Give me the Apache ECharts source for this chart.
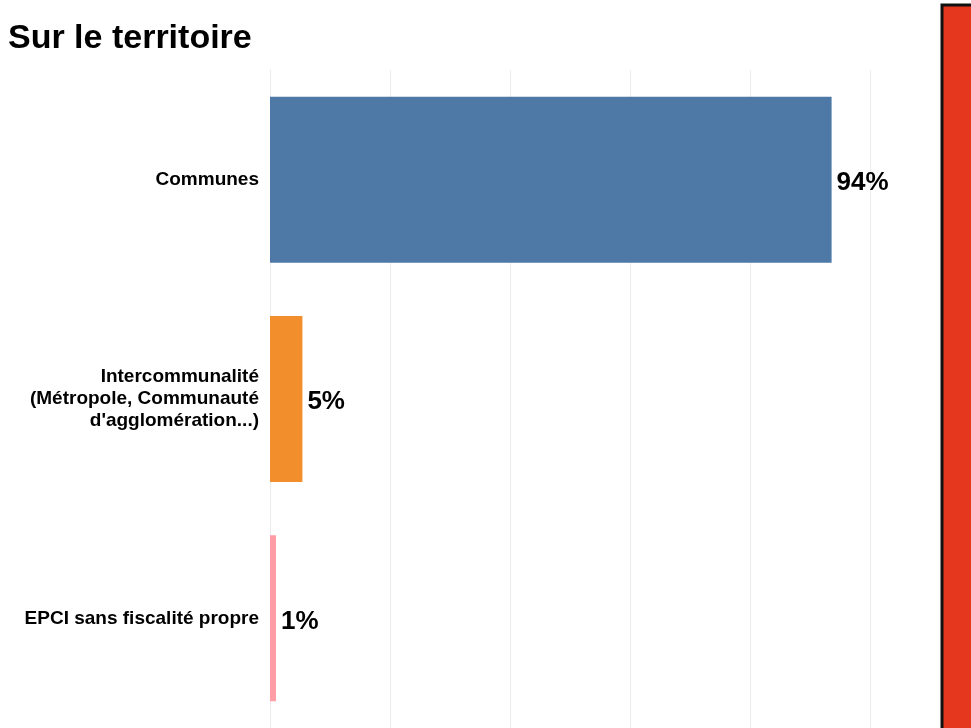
<!DOCTYPE html>
<html>
<head>
<meta charset="utf-8">
<script src="https://cdn.jsdelivr.net/npm/echarts@6/dist/echarts.min.js"></script>
<style>
  html, body { margin: 0; padding: 0; background: #fff; }
  #main { width: 971px; height: 728px; }
</style>
</head>
<body>
<div id="main"></div>
<script>
// categories, top to bottom
const categories = [
  'Communes',
  'Intercommunalité\n(Métropole, Communauté\nd\'agglomération...)',
  'EPCI sans fiscalité propre'
]
// shares, labels show them rounded
const values = [93.6, 5.4, 1.0]
const barColors = ['#4e79a7', '#f28e2b', '#ff9da7']

const chart = echarts.init(document.getElementById('main'))

chart.setOption({
  animation: false,
  textStyle: { fontFamily: 'Liberation Sans, Arial, sans-serif' },
  title: {
    text: 'Sur le territoire',
    left: 3,
    top: 17,
    textStyle: { fontSize: 34, fontWeight: 'bold', color: '#000' }
  },
  grid: {
    left: 270,
    right: 101,
    top: 70,
    bottom: -2,
    containLabel: false
  },
  xAxis: {
    type: 'value',
    min: 0,
    max: 100,
    interval: 20,
    axisLabel: { show: false },
    axisTick: { show: false },
    axisLine: { show: false },
    splitLine: { lineStyle: { color: '#ececec', width: 1 } }
  },
  yAxis: {
    type: 'category',
    inverse: true,
    data: categories,
    axisTick: { show: false },
    axisLine: { lineStyle: { color: '#ececec', width: 1 } },
    axisLabel: {
      margin: 11,
      fontSize: 19,
      lineHeight: 22,
      fontWeight: 'bold',
      color: '#000',
      align: 'right',
      verticalAlign: 'middle',
      padding: [6, 0, 0, 0]
    }
  },
  series: [{
    type: 'bar',
    barWidth: 166,
    data: values.map((v, i) => ({ value: v, itemStyle: { color: barColors[i] } })),
    label: {
      show: true,
      position: 'right',
      distance: 5,
      offset: [0, 3],
      formatter: p => Math.round(p.value) + '%',
      fontSize: 26,
      fontWeight: 'bold',
      color: '#000'
    }
  }],
  graphic: [{
    type: 'rect',
    shape: { x: 942, y: 5, width: 40, height: 740 },
    style: { fill: '#e5361e', stroke: '#111', lineWidth: 3 }
  }]
})
</script>
</body>
</html>
